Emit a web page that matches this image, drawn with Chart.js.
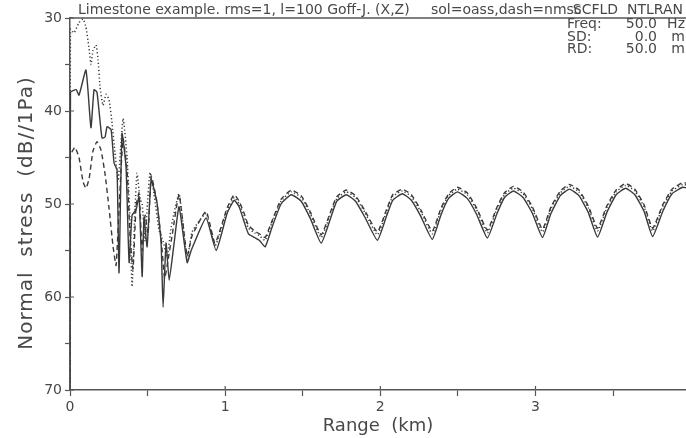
<!DOCTYPE html>
<html>
<head>
<meta charset="utf-8">
<script src="https://cdn.jsdelivr.net/npm/chart.js@4/dist/chart.umd.min.js"></script>
<style>
html, body { margin: 0; padding: 0; background: #fff; }
#wrap { width: 686px; height: 438px; }
</style>
</head>
<body>
<div id="wrap"><canvas id="stressChart" width="686" height="438"></canvas></div>
<script>
// Range in km, level in dB//1Pa
const solidRange = [0, 0.003, 0.04, 0.058, 0.103, 0.135, 0.155, 0.174, 0.206, 0.226, 0.239, 0.265, 0.284, 0.303, 0.316,
    0.335, 0.361, 0.381, 0.4, 0.426, 0.445, 0.465, 0.477, 0.497, 0.523, 0.561, 0.587, 0.6, 0.619, 0.639, 0.671,
    0.703, 0.755, 0.781, 0.877, 0.942, 1.013, 1.058, 1.09, 1.12, 1.15, 1.19, 1.22, 1.258, 1.30, 1.36, 1.426,
    1.49, 1.55, 1.619, 1.68, 1.72, 1.781, 1.84, 1.90, 1.981, 2.04, 2.08, 2.142, 2.20, 2.26, 2.335, 2.39, 2.44,
    2.497, 2.56, 2.62, 2.690, 2.75, 2.80, 2.858, 2.92, 2.98, 3.045, 3.10, 3.16, 3.219, 3.28, 3.34, 3.400, 3.46,
    3.52, 3.581, 3.64, 3.70, 3.755, 3.82, 3.88, 3.948, 3.97];
const solidLevel = [70, 38.0, 37.7, 38.3, 35.6, 41.8, 37.7, 38.0, 42.9, 42.8, 41.7, 42.0, 45.6, 46.3, 57.4,
    42.4, 46.0, 56.3, 51.2, 50.6, 49.2, 57.8, 51.4, 54.6, 47.4, 49.9, 54.2, 61.1, 54.2, 58.2, 54.2,
    50.3, 56.3, 55.0, 51.5, 55.0, 51.0, 49.6, 50.3, 51.8, 53.2, 53.6, 53.9, 54.6, 52.6, 50.0, 49.0,
    49.7, 51.6, 54.2, 51.5, 49.7, 49.0, 49.7, 51.4, 53.9, 51.3, 49.6, 48.9, 49.6, 51.3, 53.8, 51.2, 49.4,
    48.7, 49.4, 51.1, 53.65, 51.1, 49.3, 48.6, 49.3, 51.0, 53.6, 51.0, 49.1, 48.4, 49.1, 50.9, 53.55, 50.9,
    49.0, 48.3, 49.0, 50.8, 53.5, 50.8, 48.9, 48.2, 48.25];

const dottedRange = [0, 0.003, 0.026, 0.058, 0.084, 0.103, 0.123, 0.135, 0.148, 0.168, 0.181, 0.194, 0.213, 0.232,
    0.252, 0.271, 0.29, 0.31, 0.342, 0.368, 0.387, 0.4, 0.419, 0.432, 0.452, 0.465, 0.484, 0.497, 0.516, 0.542,
    0.574, 0.6, 0.626, 0.652, 0.703, 0.755, 0.787, 0.877, 0.935, 1.013, 1.058, 1.09, 1.12, 1.15, 1.19, 1.22,
    1.258, 1.30, 1.36, 1.426, 1.49, 1.55, 1.619, 1.68, 1.72, 1.781, 1.84, 1.90, 1.981, 2.04, 2.08, 2.142, 2.20,
    2.26, 2.335, 2.39, 2.44, 2.497, 2.56, 2.62, 2.690, 2.75, 2.80, 2.858, 2.92, 2.98, 3.045, 3.10, 3.16, 3.219,
    3.28, 3.34, 3.400, 3.46, 3.52, 3.581, 3.64, 3.70, 3.755, 3.82, 3.88, 3.948, 3.97];
const dottedLevel = [70, 31.2, 31.6, 30.5, 30.1, 31.0, 33.3, 35.0, 33.5, 32.9, 34.5, 37.5, 39.4, 38.2,
    38.8, 41.3, 44.5, 47.5, 40.8, 45.0, 52.0, 58.9, 50.5, 46.7, 49.5, 50.0, 54.0, 50.5, 46.6, 49.0,
    52.8, 54.0, 55.7, 52.5, 48.9, 56.0, 53.0, 51.0, 54.5, 50.7, 49.3, 50.0, 51.2, 52.6, 53.1, 53.4,
    53.9, 52.1, 49.7, 48.7, 49.3, 51.1, 53.6, 51.0, 49.4, 48.7, 49.3, 50.9, 53.3, 50.8, 49.2, 48.6, 49.2,
    50.8, 53.2, 50.7, 49.1, 48.4, 49.0, 50.6, 53.1, 50.6, 49.0, 48.3, 48.9, 50.5, 53.0, 50.5, 48.8, 48.1,
    48.7, 50.4, 52.9, 50.4, 48.7, 48.0, 48.6, 50.3, 52.9, 50.3, 48.6, 47.9, 47.95];

const dashedRange = [0, 0.003, 0.032, 0.058, 0.084, 0.103, 0.123, 0.148, 0.174, 0.2, 0.226, 0.252, 0.277, 0.297,
    0.316, 0.342, 0.368, 0.387, 0.406, 0.426, 0.445, 0.465, 0.484, 0.503, 0.523, 0.555, 0.587, 0.61, 0.632, 0.658,
    0.703, 0.755, 0.787, 0.877, 0.935, 1.013, 1.058, 1.09, 1.12, 1.15, 1.19, 1.22, 1.258, 1.30, 1.36, 1.426,
    1.49, 1.55, 1.619, 1.68, 1.72, 1.781, 1.84, 1.90, 1.981, 2.04, 2.08, 2.142, 2.20, 2.26, 2.335, 2.39, 2.44,
    2.497, 2.56, 2.62, 2.690, 2.75, 2.80, 2.858, 2.92, 2.98, 3.045, 3.10, 3.16, 3.219, 3.28, 3.34, 3.400, 3.46,
    3.52, 3.581, 3.64, 3.70, 3.755, 3.82, 3.88, 3.948, 3.97];
const dashedLevel = [70, 44.8, 43.9, 45.0, 47.6, 48.3, 47.3, 44.3, 43.3, 44.2, 46.8, 50.5, 54.5, 56.6,
    50.5, 43.0, 46.5, 53.5, 57.0, 50.2, 48.8, 55.0, 51.2, 53.2, 47.0, 49.3, 53.6, 58.0, 56.0, 53.4,
    49.0, 55.6, 53.4, 50.8, 54.2, 50.4, 49.0, 49.7, 50.9, 52.3, 52.9, 53.2, 53.6, 51.9, 49.5, 48.5,
    49.1, 50.9, 53.3, 50.8, 49.2, 48.5, 49.1, 50.7, 53.0, 50.6, 49.0, 48.4, 49.0, 50.6, 52.9, 50.5, 48.9,
    48.2, 48.8, 50.4, 52.8, 50.4, 48.8, 48.1, 48.7, 50.3, 52.7, 50.3, 48.6, 47.9, 48.5, 50.2, 52.6, 50.2,
    48.5, 47.8, 48.4, 50.1, 52.6, 50.1, 48.4, 47.7, 47.75];

const rangeTicks = [0, 1, 2, 3];
const levelTicks = [30, 40, 50, 60, 70];

const headerCase = 'Limestone example. rms=1, l=100 Goff-J. (X,Z)';
const headerLines = 'sol=oass,dash=nmsc';
const programText = 'SCFLD  NTLRAN';
const infoLabels = ['Freq:', 'SD:', 'RD:'];
const infoValues = ['50.0', '0.0', '50.0'];
const infoUnits = ['Hz', 'm', 'm'];

const inkColor = '#3a3a3a';
const textColor = '#484848';
const fontName = '"DejaVu Sans", "Liberation Sans", sans-serif';

function toPoints(xs, ys) {
    return xs.map((x, i) => ({ x: x, y: ys[i] }));
}

// Free text around the frame: header, run info and axis titles
const annotations = {
    id: 'annotations',
    afterDraw(chart) {
        const c = chart.ctx;
        const area = chart.chartArea;
        const xs = chart.scales.x;
        const ys = chart.scales.y;
        c.save();
        c.fillStyle = textColor;
        c.strokeStyle = '#555';
        c.lineWidth = 1.5;

        // top frame line
        c.beginPath();
        c.moveTo(area.left, area.top);
        c.lineTo(area.right, area.top);
        c.stroke();

        // major ticks cross the axes a little
        c.lineWidth = 1.2;
        c.beginPath();
        rangeTicks.forEach(v => {
            const px = xs.getPixelForValue(v);
            c.moveTo(px, area.bottom);
            c.lineTo(px, area.bottom - 4);
        });
        levelTicks.forEach(v => {
            const py = ys.getPixelForValue(v);
            c.moveTo(area.left, py);
            c.lineTo(area.left + 4, py);
        });
        c.stroke();

        c.font = '14px ' + fontName;
        c.textBaseline = 'alphabetic';
        c.textAlign = 'left';
        c.fillText(headerCase, 78, 14);
        c.fillText(headerLines, 431, 14);
        c.textAlign = 'right';
        c.fillText(programText, 683, 14);

        infoLabels.forEach((label, i) => {
            const y = 28 + i * 12.5;
            c.textAlign = 'left';
            c.fillText(label, 567, y);
            c.textAlign = 'right';
            c.fillText(infoValues[i], 657, y);
            c.fillText(infoUnits[i], 685, y);
        });

        c.font = '18px ' + fontName;
        c.textAlign = 'center';
        c.fillText('Range  (km)', (area.left + area.right) / 2, 431);

        c.translate(32, 213);
        c.rotate(-Math.PI / 2);
        c.font = '20px ' + fontName;
        c.letterSpacing = '1px';
        c.fillText('Normal  stress  (dB//1Pa)', 0, 0);
        c.restore();
    }
};

const bgFill = {
    id: 'bgFill',
    beforeDraw(chart) {
        const c = chart.ctx;
        c.save();
        c.fillStyle = '#ffffff';
        c.fillRect(0, 0, chart.width, chart.height);
        c.restore();
    }
};

const ctx = document.getElementById('stressChart').getContext('2d');
const stressChart = new Chart(ctx, {
    type: 'line',
    data: {
        datasets: [
            {
                label: 'sol',
                data: toPoints(solidRange, solidLevel),
                borderColor: inkColor,
                borderWidth: 1.4,
                pointRadius: 0,
                tension: 0.15,
                fill: false
            },
            {
                label: 'oass',
                data: toPoints(dottedRange, dottedLevel),
                borderColor: inkColor,
                borderWidth: 1.5,
                borderDash: [1.2, 2.4],
                pointRadius: 0,
                tension: 0.15,
                fill: false
            },
            {
                label: 'nmsc',
                data: toPoints(dashedRange, dashedLevel),
                borderColor: inkColor,
                borderWidth: 1.4,
                borderDash: [5, 3.5],
                pointRadius: 0,
                tension: 0.15,
                fill: false
            }
        ]
    },
    options: {
        responsive: false,
        animation: false,
        layout: { padding: { top: 18, right: 0, bottom: 0, left: 0 } },
        scales: {
            x: {
                type: 'linear',
                min: 0,
                max: 3.97,
                afterFit: (scale) => { scale.height = 48; },
                ticks: {
                    stepSize: 0.5,
                    includeBounds: false,
                    autoSkip: false,
                    maxRotation: 0,
                    padding: 3,
                    color: textColor,
                    font: { family: fontName, size: 14 },
                    callback: (v) => rangeTicks.includes(v) ? String(v) : ''
                },
                grid: { drawOnChartArea: false, tickLength: 6, tickColor: '#555', tickWidth: 1.2 },
                border: { color: '#555', width: 1.5 }
            },
            y: {
                reverse: true,
                min: 30,
                max: 70,
                afterFit: (scale) => { scale.width = 70; },
                ticks: {
                    stepSize: 5,
                    autoSkip: false,
                    padding: 3,
                    color: textColor,
                    font: { family: fontName, size: 14 },
                    callback: (v) => levelTicks.includes(v) ? String(v) : ''
                },
                grid: { drawOnChartArea: false, tickLength: 5, tickColor: '#555', tickWidth: 1.2 },
                border: { color: '#555', width: 1.5 }
            }
        },
        plugins: {
            legend: { display: false },
            tooltip: { enabled: false }
        }
    },
    plugins: [bgFill, annotations]
});
</script>
</body>
</html>
